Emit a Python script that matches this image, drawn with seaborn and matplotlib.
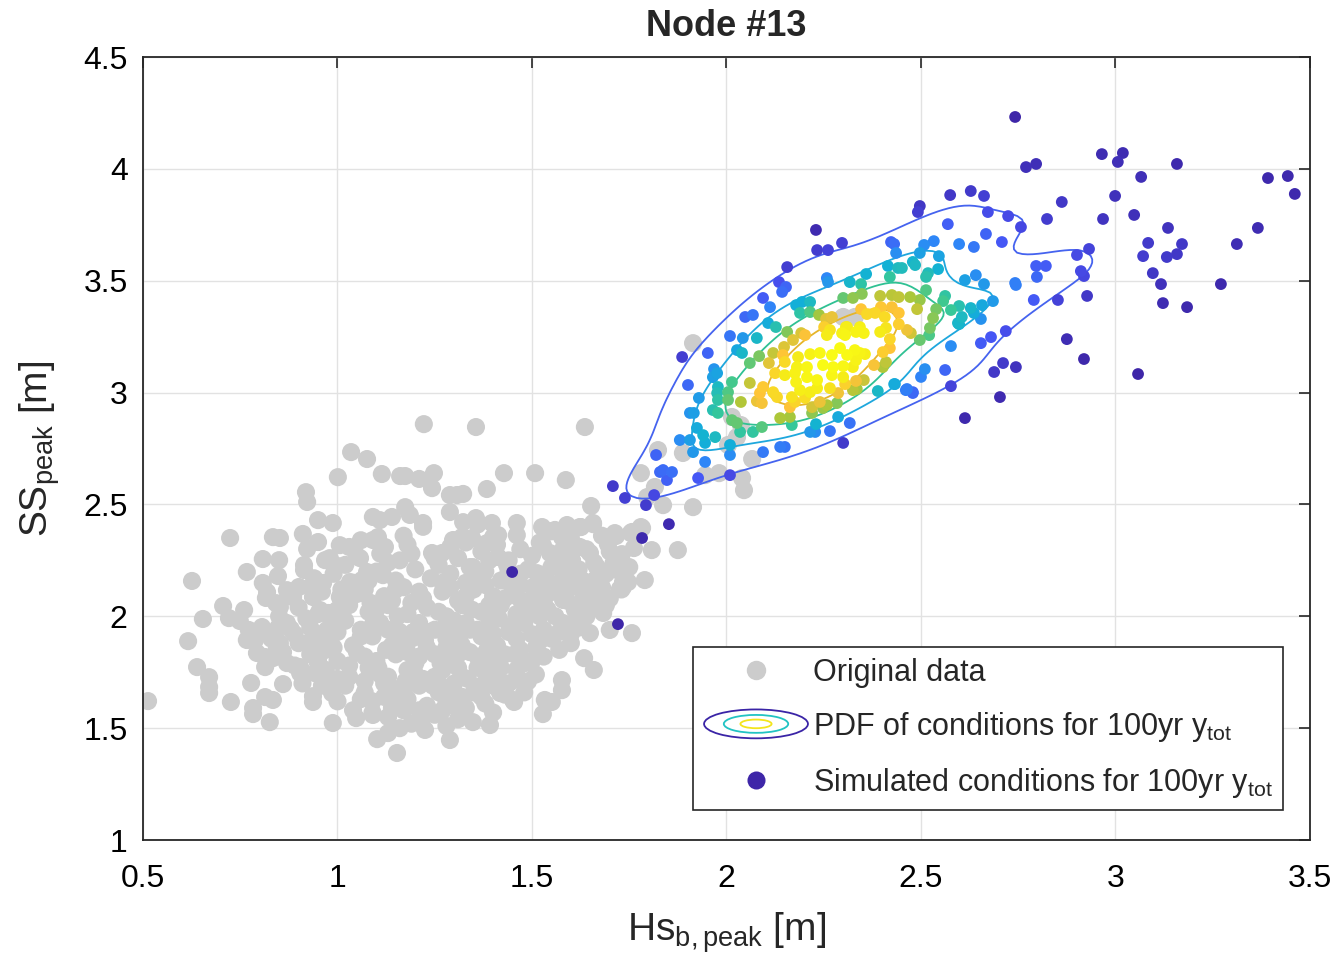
import numpy as np
import pandas as pd
import matplotlib
matplotlib.use("Agg")
import matplotlib.pyplot as plt
import seaborn as sns
from matplotlib.colors import LinearSegmentedColormap
from matplotlib.legend_handler import HandlerBase
from matplotlib.patches import Ellipse, Patch
from matplotlib.lines import Line2D
from matplotlib.ticker import FuncFormatter

# ---------------- data ----------------
title_text = "Node #13"
x_label = r"Hs$_{\mathrm{b,peak}}$ [m]"
y_label = r"SS$_{\mathrm{peak}}$ [m]"
legend_labels = ["Original data",
                 r"PDF of conditions for 100yr y$_{\mathrm{tot}}$",
                 r"Simulated conditions for 100yr y$_{\mathrm{tot}}$"]
x_ticks = [0.5, 1.0, 1.5, 2.0, 2.5, 3.0, 3.5]
y_ticks = [1.0, 1.5, 2.0, 2.5, 3.0, 3.5, 4.0, 4.5]

# original data: outer points
orig_outer = [
    (0.513,1.621),(0.626,2.158),(0.616,1.889),(0.654,1.988),(0.639,1.773),(0.670,1.728),(0.670,1.684),
    (0.670,1.657),(0.706,2.046),(0.724,2.350),(0.721,1.992),(0.749,1.979),(0.760,2.028),(0.726,1.617),
    (0.767,2.198),(0.778,1.702),(0.783,1.590),(0.783,1.563),(0.826,1.527),(0.808,2.256),(0.834,2.354),
    (0.852,2.350),(0.850,2.251),(0.847,2.180),(0.808,2.149),(0.819,2.108),(0.816,2.082),(0.842,2.059),
    (0.852,2.041),(0.870,2.117),(0.886,2.086),(0.901,2.131),(0.772,1.939),(0.793,1.930),(0.806,1.952),
    (0.767,1.894),(0.788,1.894),(0.793,1.836),(0.814,1.818),(0.814,1.773),(0.834,1.813),(0.844,1.858),
    (0.852,1.880),(0.847,1.948),(0.880,1.943),(0.870,1.791),(0.904,1.773),(0.904,1.746),(0.942,1.746),
    (0.860,1.697),(0.814,1.639),(0.834,1.626),(0.937,1.643),(0.937,1.617),(0.988,1.523),(0.986,1.657),
    (0.988,1.715),(0.950,1.804),(0.911,2.368),(0.922,2.301),(0.914,2.229),(0.914,2.207),(0.919,2.555),
    (0.922,2.511),(0.950,2.430),(0.950,2.332),(0.968,2.251),(0.988,2.417),(0.994,2.229),(1.001,2.622),
    (1.006,2.318),(0.937,2.086),(0.963,2.149),(0.955,2.028),(0.976,2.015),(0.988,1.997),(0.973,1.939),
    (0.937,1.894),(0.922,1.880),(0.955,1.849),(0.973,1.880),(0.981,1.907),(0.999,1.952),(1.006,2.086),
    (0.999,2.028),(1.035,2.734),(1.076,2.703),(1.114,2.636),(1.161,2.627),(1.091,2.444),(1.109,2.430),
    (1.140,2.444),(1.104,2.354),(1.122,2.310),(1.091,2.341),(1.058,2.260),(1.076,2.198),(1.117,2.184),
    (1.063,2.162),(1.032,2.153),(1.058,2.104),(1.102,1.451),(1.130,1.478),(1.153,1.389),(1.048,1.545),
    (1.091,1.559),(1.222,2.859),(1.356,2.846),(1.174,2.627),(1.210,2.614),(1.248,2.640),(1.243,2.573),
    (1.428,2.640),(1.384,2.569),(1.289,2.542),(1.307,2.542),(1.323,2.547),(1.174,2.488),(1.186,2.453),
    (1.220,2.417),(1.289,2.466),(1.323,2.421),(1.356,2.439),(1.397,2.417),(1.461,2.417),(1.461,2.363),
    (1.243,2.283),(1.269,2.283),(1.297,2.341),(1.320,2.354),(1.346,2.350),(1.384,2.327),(1.400,2.354),
    (1.413,2.363),(1.413,2.265),(1.436,2.229),(1.461,2.175),(1.348,2.220),(1.371,2.193),(1.289,1.447),
    (1.225,1.492),(1.392,1.514),(1.348,1.527),(1.451,1.626),(1.418,1.657),(1.636,2.846),(1.508,2.640),
    (1.587,2.609),(1.780,2.640),(1.652,2.493),(1.626,2.399),(1.657,2.412),(1.695,2.323),(1.716,2.359),
    (1.731,2.278),(1.757,2.377),(1.762,2.305),(1.780,2.399),(1.790,2.162),(1.667,2.104),(1.649,1.925),
    (1.683,2.015),(1.700,1.939),(1.757,1.925),(1.634,1.813),(1.659,1.760),(1.577,1.715),(1.577,1.670),
    (1.528,1.563),(1.533,1.626),(1.551,1.617),(1.454,1.617),(1.526,2.399),(1.559,2.386),(1.577,2.354),
    (1.590,2.408),(1.528,2.318),(1.546,2.283),(1.564,2.238),(1.603,2.251),(1.623,2.310),(1.649,2.283),
    (1.667,2.220),(1.683,2.193),(1.719,2.207),(1.734,2.153),(1.734,2.131),(1.605,2.193),(1.616,2.131),
    (1.631,2.073),(1.580,2.073),(1.546,2.149),(1.513,2.193),(1.503,2.131),(1.824,2.743),(1.888,2.730),
    (1.945,2.631),(1.981,2.640),(1.837,2.497),(1.914,2.488),(1.816,2.578),(1.796,2.533),(1.875,2.296),
    (1.808,2.296),(1.783,2.395),(1.754,2.372),(1.747,2.153),(1.726,2.122),(1.914,3.221),(2.300,3.338),
    (2.330,3.338),(2.014,2.891),(2.037,2.855),(2.027,2.801),(2.004,2.766),(2.040,2.618),(2.045,2.564),
    (2.066,2.703),(1.657,2.417),(1.623,2.399),(1.713,2.372),(1.760,2.372),
]
# original data: dense core
orig_core = [
    (1.05,2.27),(1.13,2.24),(1.19,2.28),(1.26,2.23),(1.31,2.26),(1.37,2.29),(1.44,2.25),(1.50,2.27),
    (1.55,2.22),(1.60,2.26),(1.66,2.24),(1.70,2.29),
    (0.99,2.19),(1.04,2.15),(1.10,2.20),(1.15,2.16),(1.20,2.21),(1.24,2.17),(1.29,2.19),(1.33,2.15),
    (1.38,2.20),(1.42,2.16),(1.49,2.21),(1.53,2.17),(1.58,2.20),(1.63,2.16),(1.69,2.19),(1.75,2.22),
    (0.96,2.11),(1.01,2.08),(1.07,2.12),(1.12,2.09),(1.17,2.13),(1.22,2.08),(1.27,2.11),(1.31,2.07),
    (1.35,2.12),(1.40,2.09),(1.45,2.12),(1.50,2.08),(1.55,2.11),(1.59,2.07),(1.64,2.10),(1.70,2.08),
    (0.90,2.04),(0.95,2.01),(1.03,2.05),(1.08,2.02),(1.13,2.05),(1.18,2.01),(1.23,2.04),(1.28,2.00),
    (1.32,2.05),(1.37,2.02),(1.42,2.05),(1.46,2.01),(1.51,2.04),(1.56,2.00),(1.61,2.03),(1.66,2.05),
    (0.87,1.97),(0.93,1.95),(1.02,1.98),(1.06,1.94),(1.11,1.97),(1.16,1.93),(1.21,1.97),(1.25,1.94),
    (1.30,1.98),(1.34,1.94),(1.39,1.97),(1.44,1.93),(1.48,1.97),(1.53,1.94),(1.58,1.97),(1.62,1.95),
    (0.90,1.88),(0.98,1.90),(1.04,1.87),(1.09,1.91),(1.14,1.87),(1.19,1.90),(1.23,1.86),(1.28,1.90),
    (1.32,1.87),(1.37,1.91),(1.41,1.87),(1.46,1.90),(1.51,1.86),(1.55,1.90),(1.60,1.88),
    (0.93,1.83),(1.00,1.80),(1.05,1.84),(1.10,1.80),(1.15,1.83),(1.20,1.79),(1.25,1.83),(1.29,1.80),
    (1.34,1.84),(1.38,1.80),(1.43,1.83),(1.48,1.79),(1.53,1.82),(1.57,1.85),
    (0.97,1.76),(1.03,1.73),(1.08,1.77),(1.13,1.73),(1.18,1.76),(1.22,1.72),(1.27,1.76),(1.32,1.73),
    (1.36,1.77),(1.41,1.73),(1.46,1.76),(1.51,1.74),
    (1.02,1.69),(1.07,1.66),(1.12,1.70),(1.17,1.66),(1.21,1.69),(1.26,1.66),(1.30,1.70),(1.35,1.66),
    (1.40,1.69),(1.44,1.70),
    (1.09,1.62),(1.14,1.59),(1.18,1.63),(1.23,1.60),(1.28,1.62),(1.33,1.59),(1.38,1.61),
    (1.13,1.55),(1.19,1.52),(1.25,1.56),(1.31,1.54),
    (1.085,2.06),(1.155,2.00),(1.215,2.07),(1.275,1.95),(1.345,2.03),(1.415,1.99),(1.475,2.06),
    (1.125,1.85),(1.195,1.93),(1.265,1.79),(1.315,1.92),(1.385,1.85),(1.455,1.83),(1.175,1.71),
    (1.245,1.69),(1.335,1.72),(1.105,1.77),(1.225,1.89),(1.395,1.78),(1.29,2.13),(1.38,2.14),
    (1.47,2.14),(1.57,2.13),(1.15,2.12),(1.06,1.91),(0.97,1.85),(1.52,2.00),(1.60,2.14),
    (1.02,2.23),(1.16,2.25),(1.34,2.22),(1.47,2.19),(1.62,2.21),(0.93,2.13),(1.05,2.10),(1.19,2.06),
    (1.33,2.09),(1.43,2.08),(1.53,2.07),(1.68,2.13),(0.98,2.00),(1.10,2.03),(1.26,2.02),(1.39,2.05),
    (1.54,2.03),(1.64,2.00),(0.89,1.92),(1.00,1.93),(1.13,1.94),(1.23,1.93),(1.36,1.94),(1.50,1.92),
    (1.60,1.92),(0.95,1.79),(1.07,1.82),(1.18,1.84),(1.31,1.83),(1.41,1.81),(1.50,1.80),(1.00,1.72),
    (1.11,1.74),(1.25,1.73),(1.38,1.75),(1.49,1.71),(1.06,1.63),(1.16,1.64),(1.28,1.67),(1.37,1.64),
    (1.48,1.66),(1.21,1.58),(1.30,1.60),(1.09,1.57),(1.40,1.57),(1.16,1.50),(1.28,1.51),(1.06,2.34),
    (1.17,2.36),(1.29,2.31),(1.41,2.32),(1.52,2.33),(1.64,2.30),(1.22,2.40),(1.36,2.41),(1.60,2.35),
    (1.68,2.36),
    (0.92,1.99),(0.96,1.92),(0.99,1.86),(1.03,1.78),(1.07,1.71),(1.12,1.64),(1.17,1.58),(1.22,1.55),
    (1.27,1.58),(1.32,1.64),(1.37,1.69),(1.43,1.65),(1.46,1.72),(1.42,1.77),(1.47,1.85),(1.52,1.89),
    (1.57,1.93),(1.62,1.99),(1.66,2.16),(1.71,2.24),(1.73,2.12),(1.69,2.05),(1.58,2.30),(1.55,2.38),
    (1.47,2.30),(1.39,2.25),(1.33,2.33),(1.25,2.26),(1.18,2.32),(1.11,2.28),(1.03,2.31),(0.98,2.26),
    (0.94,2.17),(0.88,2.09),(0.85,2.00),(0.83,1.90),(0.86,1.84),(0.89,1.78),(0.91,1.70),(0.96,1.69),
    (1.00,1.62),(1.04,1.58),(1.14,1.68),(1.20,1.74),(1.26,1.70),(1.31,1.77),(1.36,1.82),(1.40,1.92),
    (1.45,1.96),(1.49,2.02),(1.54,2.10),(1.58,2.17),(1.44,2.20),(1.35,2.17),(1.27,2.15),(1.21,2.11),
    (1.14,2.07),(1.08,2.16),(1.01,2.12),(1.09,1.96),(1.16,1.90),(1.21,1.82),(1.28,1.86),(1.33,1.97),
    (1.40,2.01),(1.46,2.09),
]
orig_points = orig_outer + orig_core

# simulated conditions for the 100yr total water level
sim_points = [
    (2.965,4.066),(3.019,4.071),(3.006,4.031),(3.158,4.022),(2.796,4.022),(3.066,3.964),(3.392,3.959),
    (3.443,3.968),(3.461,3.888),(2.862,3.852),(2.999,3.879),(2.824,3.776),(2.968,3.776),(3.048,3.794),
    (3.135,3.736),(3.366,3.736),(3.312,3.664),(3.084,3.669),(3.171,3.664),(3.158,3.619),(3.071,3.610),
    (3.132,3.606),(2.932,3.642),(2.901,3.615),(3.096,3.534),(3.117,3.485),(3.271,3.485),(3.122,3.400),
    (3.184,3.382),(2.911,3.543),(2.919,3.521),(2.927,3.432),(2.852,3.414),(2.875,3.239),(2.919,3.150),
    (3.058,3.083),(2.796,3.566),(2.821,3.566),(2.798,3.517),(2.790,3.414),(2.742,4.232),(2.770,4.008),
    (2.575,3.883),(2.628,3.901),(2.662,3.879),(2.497,3.834),(2.492,3.807),(2.672,3.807),(2.724,3.789),
    (2.757,3.740),(2.569,3.753),(2.667,3.709),(2.708,3.673),(2.598,3.664),(2.636,3.651),(2.533,3.677),
    (2.423,3.673),(2.431,3.664),(2.508,3.660),(2.613,3.503),(2.641,3.525),(2.662,3.485),(2.742,3.490),
    (2.744,3.481),(2.685,3.409),(2.657,3.391),(2.628,3.378),(2.636,3.356),(2.654,3.329),(2.605,3.338),
    (2.598,3.306),(2.598,3.387),(2.577,3.369),(2.577,3.208),(2.654,3.221),(2.680,3.248),(2.718,3.275),
    (2.711,3.132),(2.688,3.092),(2.744,3.114),(2.703,2.980),(2.613,2.886),(2.562,3.101),(2.577,3.029),
    (2.510,3.105),(2.500,3.070),(2.461,3.011),(2.479,2.998),(2.431,3.038),(2.389,3.007),
    (2.436,3.624),(2.497,3.624),(2.546,3.610),(2.479,3.584),(2.485,3.570),(2.415,3.566),(2.441,3.557),
    (2.451,3.557),(2.544,3.552),(2.518,3.534),(2.513,3.517),(2.359,3.530),(2.420,3.517),(2.317,3.494),
    (2.346,3.485),(2.348,3.441),(2.300,3.423),(2.325,3.423),(2.395,3.432),(2.425,3.436),(2.443,3.427),
    (2.472,3.427),(2.513,3.458),(2.497,3.414),(2.562,3.432),(2.557,3.409),(2.539,3.373),(2.531,3.333),
    (2.490,3.373),(2.595,3.311),(2.346,3.373),(2.361,3.351),(2.382,3.356),(2.397,3.382),(2.425,3.382),
    (2.407,3.338),(2.443,3.356),(2.307,3.293),(2.338,3.275),(2.353,3.266),(2.305,3.257),(2.395,3.271),
    (2.410,3.289),(2.443,3.306),(2.464,3.280),(2.474,3.266),(2.420,3.239),(2.402,3.181),(2.420,3.199),
    (2.523,3.289),(2.521,3.257),(2.497,3.235),(2.343,3.177),(2.356,3.172),(2.325,3.114),(2.333,3.145),
    (2.379,3.123),(2.402,3.114),(2.410,3.136),(2.305,3.038),(2.333,3.052),(2.353,3.056),(2.335,3.016),
    (2.433,3.038),(2.464,3.016),(2.479,3.002),(2.317,2.864),(2.300,2.775),
    (2.230,3.727),(2.233,3.637),(2.261,3.637),(2.297,3.669),(2.156,3.561),(2.135,3.494),(2.153,3.472),
    (2.143,3.450),(2.094,3.423),(2.112,3.382),(2.048,3.338),(2.068,3.347),(2.009,3.253),(1.952,3.177),
    (1.886,3.159),(1.901,3.034),(1.837,2.654),(1.860,2.645),(1.927,2.618),(2.009,2.631),(2.258,3.512),
    (2.261,3.494),(2.179,3.391),(2.194,3.405),(2.215,3.405),(2.189,3.356),(2.215,3.360),(2.238,3.347),
    (2.107,3.311),(2.127,3.293),(2.156,3.271),(2.171,3.235),(2.148,3.204),(2.202,3.257),(2.192,3.266),
    (2.256,3.329),(2.271,3.338),(2.251,3.293),(2.266,3.280),(2.258,3.257),(2.297,3.266),(2.310,3.293),
    (2.333,3.271),(2.343,3.293),(2.042,3.244),(2.078,3.244),(2.027,3.190),(2.040,3.177),(2.084,3.163),
    (2.060,3.132),(2.120,3.177),(2.145,3.168),(2.109,3.132),(2.125,3.087),(2.150,3.137),(2.184,3.159),
    (2.215,3.172),(2.240,3.177),(2.271,3.168),(2.292,3.199),(2.310,3.168),(2.330,3.190),(2.181,3.114),
    (2.207,3.114),(2.176,3.087),(2.248,3.123),(2.274,3.114),(2.300,3.118),(2.150,3.078),(2.179,3.047),
    (2.207,3.069),(2.233,3.056),(2.271,3.078),(2.300,3.069),(2.060,3.043),(2.014,3.047),(2.004,3.002),
    (1.978,3.025),(1.976,2.998),(1.978,2.967),(2.004,2.967),(2.037,2.958),(2.094,3.025),(2.120,3.002),
    (2.130,2.980),(2.086,2.998),(2.078,2.962),(2.091,2.953),(2.168,2.980),(2.189,3.011),(2.215,3.002),
    (2.233,3.020),(2.176,2.958),(2.202,2.976),(2.266,3.020),(2.287,2.998),(2.325,3.011),(2.163,2.935),
    (2.220,2.935),(2.240,2.958),(2.258,2.944),(2.220,2.909),(2.248,2.931),(2.284,2.953),(2.287,2.891),
    (2.163,2.891),(2.138,2.886),(2.168,2.855),(2.091,2.846),(2.068,2.824),(2.035,2.824),(2.027,2.864),
    (1.965,2.922),(1.978,2.909),(2.014,2.877),(1.929,2.976),(1.906,2.909),(1.916,2.909),(1.924,2.842),
    (1.880,2.788),(1.906,2.788),(1.940,2.810),(1.945,2.775),(1.971,2.801),(1.914,2.734),(1.945,2.690),
    (2.009,2.721),(2.009,2.766),(2.094,2.734),(2.138,2.757),(2.150,2.757),(2.215,2.824),(2.228,2.824),
    (2.230,2.859),(2.266,2.828),(1.968,3.105),(1.976,3.087),(1.965,3.069),
    (1.819,2.721),(1.829,2.645),(1.847,2.609),(1.708,2.582),(1.739,2.529),(1.793,2.497),(1.814,2.542),
    (1.852,2.412),(1.783,2.350),(1.721,1.965),(1.449,2.198),
]

# contour probability levels (iso-proportions) and line colours
pdf_levels = [0.25, 0.5, 0.68, 0.85]
pdf_colors = ["#4563ef", "#1ea7dd", "#2fc193", "#e5b52a"]

# ---------------- styling ----------------
sns.set_theme(style="white")
plt.rcParams["font.family"] = ["Liberation Sans", "DejaVu Sans"]
plt.rcParams["mathtext.fontset"] = "custom"
plt.rcParams["mathtext.rm"] = "Liberation Sans"
plt.rcParams["mathtext.it"] = "Liberation Sans:italic"
plt.rcParams["mathtext.bf"] = "Liberation Sans:bold"

parula = LinearSegmentedColormap.from_list("parula", [
    (0.000, (0.2422, 0.1504, 0.6603)),
    (0.125, (0.2810, 0.3228, 0.9579)),
    (0.250, (0.1786, 0.5289, 0.9682)),
    (0.375, (0.0689, 0.6948, 0.8394)),
    (0.500, (0.2161, 0.7843, 0.5923)),
    (0.625, (0.6720, 0.7793, 0.2227)),
    (0.750, (0.9970, 0.7659, 0.2199)),
    (0.875, (0.9598, 0.9218, 0.0948)),
    (1.000, (0.9769, 0.9839, 0.0805)),
])

orig_df = pd.DataFrame(orig_points, columns=["hs", "ss"])
sim_df = pd.DataFrame(sim_points, columns=["hs", "ss"])

# density of each simulated point (gaussian kernel, Scott bandwidth) for colouring
pts = sim_df[["hs", "ss"]].to_numpy().T
n = pts.shape[1]
cov = np.cov(pts) * n ** (-2.0 / 6.0)
inv = np.linalg.inv(cov)
diff = pts[:, :, None] - pts[:, None, :]
q = np.einsum("inm,ij,jnm->nm", diff, inv, diff)
d = np.exp(-0.5 * q).sum(axis=1)
d = (d - d.min()) / (d.max() - d.min())
sim_df["dens"] = d ** 1.5
sim_df = sim_df.sort_values("dens")

fig = plt.figure(figsize=(13.4, 9.68), dpi=100)
ax = fig.add_axes([0.1067, 0.1322, 0.8709, 0.8089])

sns.scatterplot(data=orig_df, x="hs", y="ss", color="#cccccc", s=170,
                linewidth=0, edgecolor="none", ax=ax, zorder=2)
sns.kdeplot(data=sim_df, x="hs", y="ss", levels=pdf_levels, colors=pdf_colors,
            bw_adjust=0.85, linewidths=1.3, ax=ax, zorder=3)
sns.scatterplot(data=sim_df, x="hs", y="ss", hue="dens", palette=parula,
                hue_norm=(0.0, 1.0), s=72, linewidth=0, edgecolor="none",
                legend=False, ax=ax, zorder=4)

ax.set_xlim(0.5, 3.5)
ax.set_ylim(1.0, 4.5)
ax.set_xticks(x_ticks)
ax.set_yticks(y_ticks)
fmt = FuncFormatter(lambda v, p: f"{v:g}")
ax.xaxis.set_major_formatter(fmt)
ax.yaxis.set_major_formatter(fmt)
ax.grid(True, color="#e2e2e2", linewidth=1.0)
ax.set_axisbelow(True)
ax.tick_params(axis="both", which="both", direction="in", length=8, width=1.2,
               top=True, right=True, labelsize=23, colors="#262626", labelcolor="black")
ax.tick_params(axis="x", pad=17)
ax.tick_params(axis="y", pad=11)
for sp in ax.spines.values():
    sp.set_color("#262626")
    sp.set_linewidth(1.3)

ax.set_xlabel(x_label, fontsize=28, labelpad=12)
ax.set_ylabel(y_label, fontsize=28, labelpad=15)
ax.set_title(title_text, fontsize=26, fontweight="bold", pad=15)


class HandlerEllipses(HandlerBase):
    def create_artists(self, legend, orig_handle, xdescent, ydescent, width, height, fontsize, trans):
        cx = 0.5 * width - xdescent
        cy = 0.5 * height - ydescent
        arts = []
        for f, c in zip([1.0, 0.62, 0.3], ["#3a24a6", "#22c3c3", "#f3e51b"]):
            e = Ellipse((cx, cy), width * f, height * 1.35 * f, fill=False, edgecolor=c,
                        linewidth=1.3, transform=trans)
            arts.append(e)
        return arts


h_orig = Line2D([], [], marker="o", linestyle="", markersize=14, markerfacecolor="#cccccc",
                markeredgecolor="none")
h_pdf = Patch()
h_sim = Line2D([], [], marker="o", linestyle="", markersize=13,
               markerfacecolor=(0.2422, 0.1504, 0.6603), markeredgecolor="none")
leg = ax.legend([h_orig, h_pdf, h_sim], legend_labels, handler_map={h_pdf: HandlerEllipses()},
                loc="lower right", bbox_to_anchor=(0.977, 0.038), borderaxespad=0,
                fontsize=22, handlelength=3.4, handletextpad=0.15, labelspacing=0.72,
                borderpad=0.35, frameon=True, fancybox=False, framealpha=1, edgecolor="#262626")
leg.get_frame().set_linewidth(1.2)
leg.set_zorder(10)

fig.savefig("out.png", dpi=100)
